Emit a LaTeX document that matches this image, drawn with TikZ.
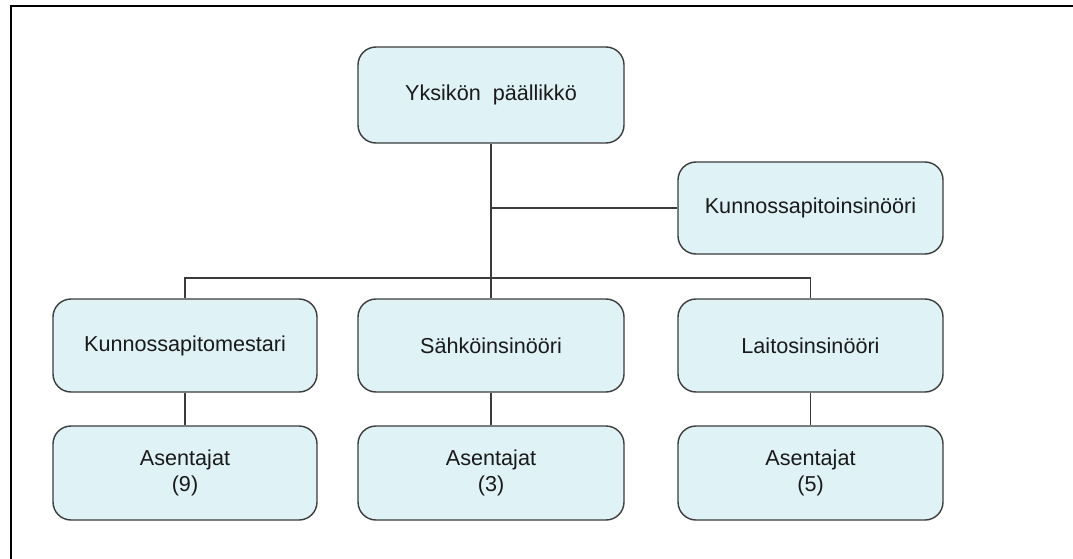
\documentclass[tikz,border=0pt]{standalone}
\usepackage{fontspec}
\setmainfont{Liberation Sans}
\begin{document}
\begin{tikzpicture}[x=1pt,y=-1pt,
  orgbox/.style={draw=boxline, fill=boxfill, line width=1.4pt, rounded corners=18pt,
    minimum width=265pt, minimum height=94pt, inner sep=0pt, align=center,
    text=txt, font=\fontsize{21.6}{26}\selectfont},
  link/.style={draw=boxline, line width=1.4pt}]
\definecolor{boxfill}{HTML}{DFF2F5}
\definecolor{boxline}{HTML}{3C3C3C}
\definecolor{txt}{HTML}{1A1A1A}
\useasboundingbox (0,0) rectangle (1073,559);
% frame
\draw[line width=2.2pt, black] (11,560) -- (11,6) -- (1074,6);
% boxes
\node[orgbox, minimum width=266pt, minimum height=96pt] (top) at (491,95) {Yksikön\ \ päällikkö};
\node[orgbox, minimum height=92pt] (kpi) at (810.5,208) {Kunnossapitoinsinööri};
\node[orgbox, minimum width=264pt, minimum height=93pt] (km) at (185,345.5) {Kunnossapitomestari};
\node[orgbox, minimum width=266pt, minimum height=93pt] (sa) at (491,345.5) {Sähköinsinööri};
\node[orgbox, minimum height=93pt] (li) at (810.5,345.5) {Laitosinsinööri};
\node[orgbox, minimum width=264pt] (a1) at (185,473) {Asentajat\\(9)};
\node[orgbox, minimum width=266pt] (a2) at (491,473) {Asentajat\\(3)};
\node[orgbox] (a3) at (810.5,473) {Asentajat\\(5)};
% connectors
\coordinate (j) at (491,278);
\draw[link] (top) -- (sa);
\draw[link] (kpi.west) -- (kpi.west -| top.south);
\draw[link] (km.north) |- (j) -| (li.north);
\draw[link] (km) -- (a1);
\draw[link] (sa) -- (a2);
\draw[link] (li) -- (a3);
\end{tikzpicture}
\end{document}
